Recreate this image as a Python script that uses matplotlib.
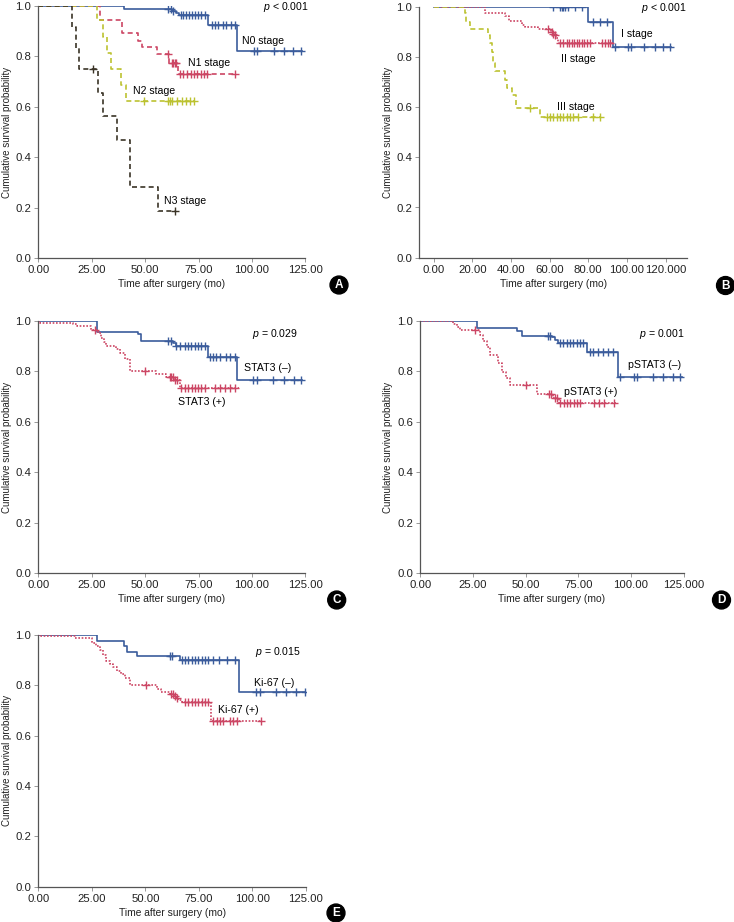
import numpy as np
import matplotlib
matplotlib.use("Agg")
import matplotlib.pyplot as plt

plt.rcParams["font.family"] = ["Liberation Sans", "DejaVu Sans"]
plt.rcParams["mathtext.fontset"] = "custom"
plt.rcParams["mathtext.it"] = "Liberation Sans:italic"
plt.rcParams["mathtext.rm"] = "Liberation Sans"

BLUE = "#3b5c9c"
RED = "#cc4664"
OLIVE = "#bcc231"
DARK = "#3a3326"

# ---- panel A: N stage ----
a_n0_t = [40.2, 62.5, 64.5, 66.0, 79.6, 93.1]
a_n0_s = [0.987, 0.981, 0.973, 0.964, 0.925, 0.821]
a_n0_end = 123.6
a_n0_cens = [60.8, 61.9, 63.2, 66.8, 67.9, 69.1, 70.4, 71.8, 73.3, 74.9, 76.4, 78.0,
             81.4, 82.7, 84.2, 86.6, 88.1, 90.2, 92.0, 101.0, 102.2, 110.3, 115.2, 119.1, 122.8]

a_n1_t = [28.9, 39.0, 46.8, 48.4, 55.4, 61.2, 65.2]
a_n1_s = [0.944, 0.891, 0.862, 0.838, 0.809, 0.775, 0.732]
a_n1_end = 92.1
a_n1_cens = [60.9, 62.4, 63.2, 64.0, 64.7, 66.3, 67.9, 69.8, 71.3, 72.9, 74.4, 76.0,
             77.6, 79.1, 92.1]

a_n2_t = [27.5, 30.5, 32.0, 34.2, 38.5, 41.0]
a_n2_s = [0.944, 0.878, 0.812, 0.750, 0.686, 0.624]
a_n2_end = 72.9
a_n2_cens = [49.4, 60.9, 61.8, 62.6, 64.8, 67.1, 69.1, 71.0, 72.9]

a_n3_t = [15.9, 17.5, 19.2, 28.1, 30.1, 37.0, 42.9, 56.2]
a_n3_s = [0.917, 0.833, 0.750, 0.656, 0.5625, 0.469, 0.281, 0.1875]
a_n3_end = 64.0
a_n3_cens = [25.8, 64.0]

# ---- panel B: stage ----
b_i_t = [79.7, 92.9]
b_i_s = [0.940, 0.841]
b_i_end = 122.8
b_i_cens = [61.6, 65.3, 66.2, 67.0, 67.9, 69.6, 73.1, 76.6, 82.4, 86.0, 89.5,
            93.8, 100.5, 102.2, 109.0, 114.3, 118.6, 122.4]

b_ii_t = [26.5, 36.9, 39.0, 45.5, 47.2, 54.1, 60.6, 61.6, 62.4, 63.3, 64.5]
b_ii_s = [0.974, 0.963, 0.944, 0.927, 0.918, 0.910, 0.900, 0.893, 0.887, 0.877, 0.854]
b_ii_end = 92.6
b_ii_cens = [59.3, 61.0, 62.0, 63.0, 65.3, 67.0, 68.8, 70.0, 71.4, 72.7, 74.0, 75.1,
             76.6, 77.9, 79.2, 80.9, 86.9, 88.6, 90.0, 91.2]

b_iii_t = [16.2, 16.8, 18.8, 28.3, 29.1, 30.0, 30.8, 31.7, 36.9, 37.8, 40.7, 42.4, 55.0]
b_iii_s = [0.974, 0.940, 0.910, 0.887, 0.854, 0.821, 0.775, 0.745, 0.708, 0.675,
           0.648, 0.595, 0.559]
b_iii_end = 86.5
b_iii_cens = [49.8, 58.5, 60.2, 61.9, 63.6, 65.3, 67.1, 68.8, 70.5, 72.2, 74.8, 82.6, 86.0]

# ---- panel C: STAT3 ----
c_neg_t = [27.6, 46.7, 48.2, 63.1, 64.5, 79.4, 93.1]
c_neg_s = [0.958, 0.947, 0.921, 0.912, 0.901, 0.859, 0.766]
c_neg_end = 123.5
c_neg_cens = [60.7, 62.0, 64.6, 66.2, 68.5, 70.1, 71.6, 73.2, 74.8, 76.3, 77.9,
              80.2, 81.8, 83.3, 84.9, 88.0, 89.6, 91.9,
              100.6, 102.2, 110.0, 115.1, 119.7, 123.2]

c_pos_t = [1.0, 16.3, 18.3, 24.8, 28.0, 29.5, 30.6, 31.8, 36.5, 38.1, 40.7, 42.8,
           55.2, 59.9, 63.4, 66.2]
c_pos_s = [0.993, 0.988, 0.980, 0.964, 0.951, 0.931, 0.915, 0.900, 0.888, 0.873,
           0.850, 0.802, 0.790, 0.779, 0.766, 0.734]
c_pos_end = 93.9
c_pos_cens = [26.4, 50.1, 61.5, 62.3, 63.1, 64.1, 65.1, 66.9, 68.6, 70.2, 71.8,
              73.3, 74.9, 76.4, 78.0, 82.7, 85.0, 87.4, 89.7, 92.0]

# ---- panel D: pSTAT3 ----
d_neg_t = [26.8, 46.0, 48.1, 62.4, 63.9, 65.5, 79.0, 94.0]
d_neg_s = [0.971, 0.960, 0.942, 0.935, 0.926, 0.912, 0.878, 0.779]
d_neg_end = 124.2
d_neg_cens = [60.5, 61.6, 66.3, 67.9, 69.5, 71.0, 72.6, 74.2, 75.8, 77.4,
              80.5, 82.1, 84.5, 86.9, 89.2, 91.6,
              94.6, 101.3, 102.9, 110.3, 115.2, 119.9, 123.4]

d_pos_t = [15.7, 17.2, 18.8, 28.3, 29.9, 31.5, 33.1, 37.0, 38.6, 40.7, 42.6, 55.4,
           63.0, 65.7]
d_pos_s = [0.990, 0.978, 0.964, 0.945, 0.920, 0.895, 0.865, 0.835, 0.799, 0.775,
           0.746, 0.709, 0.696, 0.674]
d_pos_end = 93.0
d_pos_cens = [26.0, 50.2, 60.9, 62.0, 64.0, 64.9, 66.5, 68.0, 69.6, 71.2, 72.8,
              74.4, 76.0, 82.3, 84.7, 87.0, 91.8]

# ---- panel E: Ki-67 ----
e_neg_t = [27.4, 40.0, 41.2, 46.1, 66.1, 93.7]
e_neg_s = [0.977, 0.955, 0.934, 0.917, 0.901, 0.773]
e_neg_end = 125.1
e_neg_cens = [61.3, 62.6, 67.0, 68.5, 70.1, 71.7, 73.2, 74.8, 76.3, 77.9, 79.4,
              81.8, 84.6, 88.0, 91.9, 101.8, 103.4, 111.1, 115.8, 120.4, 124.4]

e_pos_t = [1.0, 17.0, 24.9, 27.1, 28.7, 30.2, 31.7, 33.3, 34.9, 36.8, 38.8, 40.3,
           42.7, 55.3, 57.5, 61.5, 63.0, 64.2, 65.4, 67.0, 80.5]
e_pos_s = [0.996, 0.988, 0.967, 0.958, 0.940, 0.920, 0.898, 0.885, 0.872, 0.858,
           0.845, 0.830, 0.801, 0.784, 0.775, 0.766, 0.758, 0.750, 0.742, 0.735, 0.660]
e_pos_end = 104.4
e_pos_cens = [50.3, 62.0, 62.8, 63.6, 64.6, 68.5, 70.1, 71.7, 73.2, 74.8, 76.3, 77.9,
              79.4, 81.8, 83.6, 84.9, 86.1, 89.6, 91.1, 93.0, 104.0]

TXT = 7.6
W, H = 734, 922


def km(ax, times, surv, end, cens, color, ls):
    t = np.r_[0.0, times, end]
    s = np.r_[1.0, surv, surv[-1]]
    ax.step(t, s, where="post", color=color, ls=ls, lw=1.2)
    cens = np.asarray(cens)
    idx = np.searchsorted(np.asarray(times), cens, side="right")
    cs = np.r_[1.0, surv][idx]
    ax.plot(cens, cs, ls="none", marker="+", ms=6, mew=1.0, color=color)


def setup(ax, xlim, xticks, xlabels, ylab_px):
    ax.set_xlim(*xlim)
    ax.set_ylim(0, 1.0)
    for side in ["top", "right"]:
        ax.spines[side].set_visible(False)
    for side in ["left", "bottom"]:
        ax.spines[side].set_color("#555555")
        ax.spines[side].set_linewidth(0.9)
    ax.set_yticks(np.arange(0, 1.01, 0.2))
    ax.set_yticklabels([f"{v:.1f}" for v in np.arange(0, 1.01, 0.2)])
    ax.set_xticks(xticks)
    ax.set_xticklabels(xlabels)
    ax.tick_params(labelsize=8.2, color="#888888", length=3, width=0.6, pad=2, labelcolor="#222222")
    ax.set_xlabel("Time after surgery (mo)", fontsize=7.4, labelpad=3, color="#222222")
    ax.set_ylabel("Cumulative survival probability", fontsize=7.0, color="#222222", va="center")
    # place y label by its pixel centre
    x0 = ax.get_position().x0 * W
    w = ax.get_position().width * W
    ax.yaxis.set_label_coords((ylab_px - x0) / w, 0.5)
    ax.patch.set_alpha(0)


fig = plt.figure(figsize=(W / 100, H / 100), dpi=100)


def axes_px(x0, x1, y_top, y_bot):
    return fig.add_axes([x0 / W, 1 - y_bot / H, (x1 - x0) / W, (y_bot - y_top) / H])


ticks125 = [0, 25, 50, 75, 100, 125]
labels125 = ["0.00", "25.00", "50.00", "75.00", "100.00", "125.00"]

# A
axA = axes_px(38.3, 305.3, 6, 258)
setup(axA, (0, 125), ticks125, labels125, 7.0)
km(axA, a_n0_t, a_n0_s, a_n0_end, a_n0_cens, BLUE, "-")
km(axA, a_n1_t, a_n1_s, a_n1_end, a_n1_cens, RED, (0, (3, 2)))
km(axA, a_n2_t, a_n2_s, a_n2_end, a_n2_cens, OLIVE, (0, (3, 2)))
km(axA, a_n3_t, a_n3_s, a_n3_end, a_n3_cens, DARK, (0, (3, 2)))
axA.text(126.5, 0.995, "$p$ < 0.001", ha="right", va="center", fontsize=TXT)
axA.text(105.2, 0.861, "N0 stage", ha="center", va="center", fontsize=TXT)
axA.text(80.0, 0.775, "N1 stage", ha="center", va="center", fontsize=TXT)
axA.text(54.2, 0.663, "N2 stage", ha="center", va="center", fontsize=TXT)
axA.text(68.7, 0.225, "N3 stage", ha="center", va="center", fontsize=TXT)

# B
axB = axes_px(419.3, 687.0, 6.7, 257.7)
setup(axB, (-7.45, 131.1), [0, 20, 40, 60, 80, 100, 120],
      ["0.00", "20.00", "40.00", "60.00", "80.00", "100.00", "120.000"], 388.0)
km(axB, b_i_t, b_i_s, b_i_end, b_i_cens, BLUE, "-")
km(axB, b_ii_t, b_ii_s, b_ii_end, b_ii_cens, RED, (0, (1, 1)))
km(axB, b_iii_t, b_iii_s, b_iii_end, b_iii_cens, OLIVE, (0, (3, 2)))
axB.text(131.0, 0.995, "$p$ < 0.001", ha="right", va="center", fontsize=TXT)
axB.text(105.2, 0.891, "I stage", ha="center", va="center", fontsize=TXT)
axB.text(74.6, 0.792, "II stage", ha="center", va="center", fontsize=TXT)
axB.text(73.5, 0.602, "III stage", ha="center", va="center", fontsize=TXT)

# C
axC = axes_px(38.3, 305.3, 321, 573.3)
setup(axC, (0, 125), ticks125, labels125, 7.0)
km(axC, c_neg_t, c_neg_s, c_neg_end, c_neg_cens, BLUE, "-")
km(axC, c_pos_t, c_pos_s, c_pos_end, c_pos_cens, RED, (0, (1, 1)))
axC.text(110.8, 0.948, "$p$ = 0.029", ha="center", va="center", fontsize=TXT)
axC.text(107.3, 0.812, "STAT3 (–)", ha="center", va="center", fontsize=TXT)
axC.text(76.3, 0.680, "STAT3 (+)", ha="center", va="center", fontsize=TXT)

# D
axD = axes_px(420.3, 683.7, 321, 573.3)
setup(axD, (0, 125), ticks125,
      ["0.00", "25.00", "50.00", "75.00", "100.00", "125.000"], 388.0)
km(axD, d_neg_t, d_neg_s, d_neg_end, d_neg_cens, BLUE, "-")
km(axD, d_pos_t, d_pos_s, d_pos_end, d_pos_cens, RED, (0, (1, 1)))
axD.text(114.7, 0.948, "$p$ = 0.001", ha="center", va="center", fontsize=TXT)
axD.text(111.2, 0.826, "pSTAT3 (–)", ha="center", va="center", fontsize=TXT)
axD.text(80.9, 0.720, "pSTAT3 (+)", ha="center", va="center", fontsize=TXT)

# E
axE = axes_px(38.3, 306.0, 635, 886.7)
setup(axE, (0, 125), ticks125, labels125, 7.0)
km(axE, e_neg_t, e_neg_s, e_neg_end, e_neg_cens, BLUE, "-")
km(axE, e_pos_t, e_pos_s, e_pos_end, e_pos_cens, RED, (0, (1, 1)))
axE.text(111.7, 0.934, "$p$ = 0.015", ha="center", va="center", fontsize=TXT)
axE.text(110.3, 0.808, "Ki-67 (–)", ha="center", va="center", fontsize=TXT)
axE.text(93.4, 0.702, "Ki-67 (+)", ha="center", va="center", fontsize=TXT)

# panel letters
for lab, x, y in [("A", 339, 285), ("B", 725.5, 285.5), ("C", 336.7, 600),
                  ("D", 721.5, 600), ("E", 336, 913)]:
    fig.text(x / W, 1 - y / H, lab, ha="center", va="center", color="white",
             fontsize=8.5, fontweight="bold",
             bbox=dict(boxstyle="circle,pad=0.25", fc="black", ec="black"))

fig.savefig("out.png", dpi=100)
